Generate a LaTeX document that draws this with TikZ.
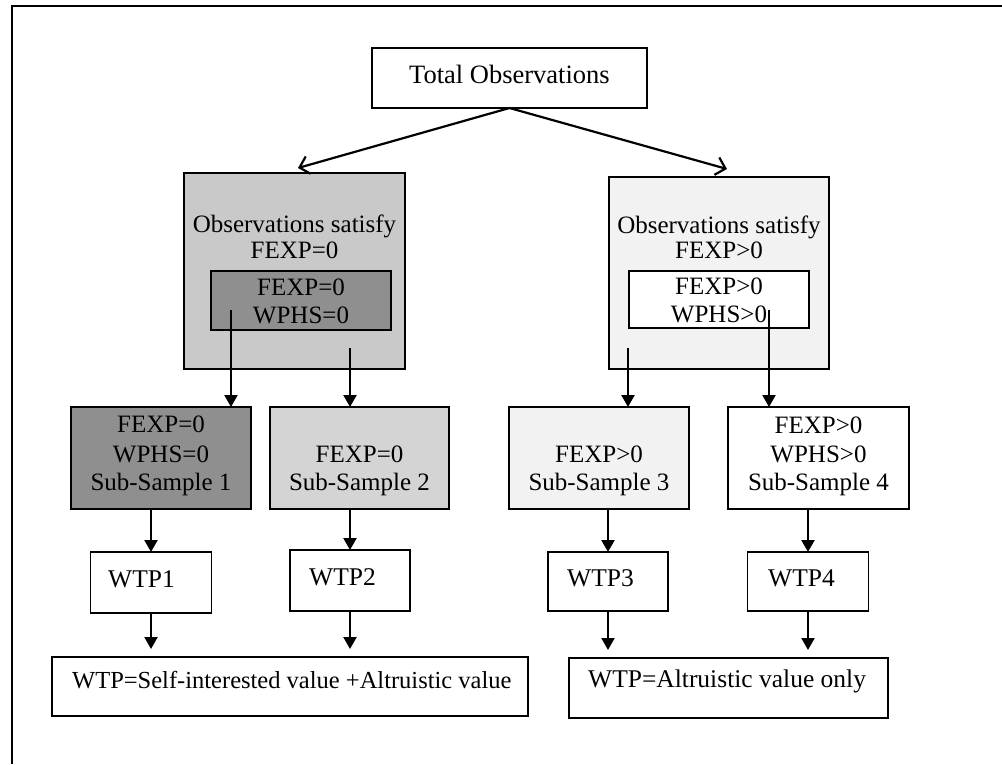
\documentclass[tikz,border=0pt]{standalone}
\usepackage{fontspec}
\setmainfont{Liberation Serif}
\usetikzlibrary{arrows.meta}
\definecolor{midgray}{gray}{0.79}
\definecolor{subtwogray}{gray}{0.83}
\definecolor{darkfill}{gray}{0.56}
\definecolor{palegray}{gray}{0.95}
\begin{document}
\begin{tikzpicture}[x=1pt,y=-1pt,
  box/.style={draw=black, line width=1.8pt, inner sep=0pt, outer sep=0pt},
  txt/.style={anchor=base, inner sep=0pt, font=\fontsize{25}{29}\selectfont},
  ltxt/.style={anchor=base west, inner sep=0pt, font=\fontsize{25.5}{29}\selectfont},
  arr/.style={line width=2.2pt, -{Triangle[length=12pt,width=13pt]}},
  oarr/.style={line width=2.2pt, -{Straight Barb[length=9pt,width=18pt]}}]
\useasboundingbox (0,0) rectangle (1002,764);
\fill[white] (0,0) rectangle (1002,764);
\draw[line width=1.8pt] (12,764) -- (12,6) -- (1002,6);

% top
\node[box, minimum width=275pt, minimum height=60pt] (total) at (509.5,78) {};
\node[txt, font=\fontsize{26.5}{29}\selectfont] (ttotal) at (509.5,83) {Total Observations};

% big boxes
\node[box, fill=midgray, minimum width=221pt, minimum height=196pt] (obs0) at (294.5,271) {};
\node[txt] (tobs0a) at (294.5,232) {Observations satisfy};
\node[txt] (tobs0b) at (294.5,258) {FEXP=0};
\node[box, fill=darkfill, minimum width=180pt, minimum height=59pt] (in0) at (301,300.5) {};
\node[txt] (tin0a) at (301,295) {FEXP=0};
\node[txt] (tin0b) at (301,323) {WPHS=0};

\node[box, fill=palegray, minimum width=220pt, minimum height=192pt] (obs1) at (719,273) {};
\node[txt] (tobs1a) at (719,233) {Observations satisfy};
\node[txt] (tobs1b) at (719,258) {FEXP>0};
\node[box, fill=white, minimum width=180pt, minimum height=57pt] (in1) at (719,299.5) {};
\node[txt] (tin1a) at (719,294) {FEXP>0};
\node[txt] (tin1b) at (719,322) {WPHS>0};

% sub-samples
\node[box, fill=darkfill, minimum width=180pt, minimum height=102pt] (ss1) at (161,458) {};
\node[txt] (tss1a) at (161,432) {FEXP=0};
\node[txt] (tss1b) at (161,462) {WPHS=0};
\node[txt] (tss1c) at (161,490) {Sub-Sample 1};

\node[box, fill=subtwogray, minimum width=179pt, minimum height=102pt] (ss2) at (359.5,458) {};
\node[txt] (tss2a) at (359.5,462) {FEXP=0};
\node[txt] (tss2b) at (359.5,490) {Sub-Sample 2};

\node[box, fill=palegray, minimum width=180pt, minimum height=102pt] (ss3) at (599,458) {};
\node[txt] (tss3a) at (599,462) {FEXP>0};
\node[txt] (tss3b) at (599,490) {Sub-Sample 3};

\node[box, fill=white, minimum width=181pt, minimum height=102pt] (ss4) at (818.5,458) {};
\node[txt] (tss4a) at (818.5,433) {FEXP>0};
\node[txt] (tss4b) at (818.5,462) {WPHS>0};
\node[txt] (tss4c) at (818.5,490) {Sub-Sample 4};

% WTP boxes
\node[box, minimum width=121pt, minimum height=61pt] (wtp1) at (151,582.5) {};
\node[ltxt] (twtp1) at (108,587) {WTP1};
\node[box, minimum width=120pt, minimum height=61pt] (wtp2) at (350,580.5) {};
\node[ltxt] (twtp2) at (309,585) {WTP2};
\node[box, minimum width=120pt, minimum height=59pt] (wtp3) at (608,581.5) {};
\node[ltxt] (twtp3) at (567,586) {WTP3};
\node[box, minimum width=121pt, minimum height=59pt] (wtp4) at (808,581.5) {};
\node[ltxt] (twtp4) at (768,586) {WTP4};

% result boxes
\node[box, minimum width=476pt, minimum height=59pt] (resA) at (290,686.5) {};
\node[ltxt, font=\fontsize{24.5}{29}\selectfont] (tresA) at (72,688) {WTP=Self-interested value +Altruistic value};
\node[box, minimum width=319pt, minimum height=60pt] (resB) at (728.5,688) {};
\node[ltxt] (tresB) at (588,687) {WTP=Altruistic value only};

% arrows from top
\coordinate (tipL) at (298,168);
\coordinate (tipR) at (727,169);
\draw[oarr] (total.south) -- (tipL);
\draw[oarr] (total.south) -- (tipR);

% arrows to sub-samples
\coordinate (a1) at (231,310);
\coordinate (a2) at (350,348);
\coordinate (a3) at (628,348);
\coordinate (a4) at (769,310);
\draw[arr] (a1) -- (a1 |- ss1.north);
\draw[arr] (a2) -- (a2 |- ss2.north);
\draw[arr] (a3) -- (a3 |- ss3.north);
\draw[arr] (a4) -- (a4 |- ss4.north);

% sub-samples to WTP
\draw[arr] (wtp1.north |- ss1.south) -- (wtp1.north);
\draw[arr] (wtp2.north |- ss2.south) -- (wtp2.north);
\draw[arr] (wtp3.north |- ss3.south) -- (wtp3.north);
\draw[arr] (wtp4.north |- ss4.south) -- (wtp4.north);

% WTP to results
\draw[arr, shorten >=8pt] (wtp1.south) -- (wtp1.south |- resA.north);
\draw[arr, shorten >=8pt] (wtp2.south) -- (wtp2.south |- resA.north);
\draw[arr, shorten >=8pt] (wtp3.south) -- (wtp3.south |- resB.north);
\draw[arr, shorten >=8pt] (wtp4.south) -- (wtp4.south |- resB.north);
\end{tikzpicture}
\end{document}
